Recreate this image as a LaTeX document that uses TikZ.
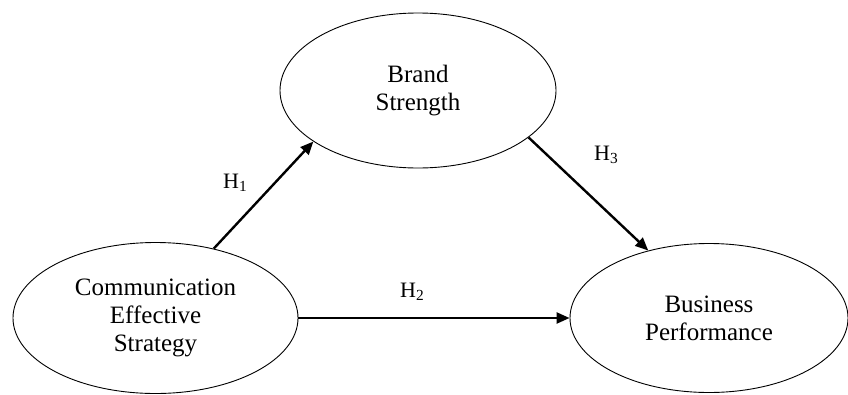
\documentclass[tikz,border=0pt]{standalone}
\usepackage{fontspec}
\setmainfont{Liberation Serif}
\usetikzlibrary{shapes.geometric,arrows.meta}
\begin{document}
\begin{tikzpicture}[x=1pt,y=-1pt,
  latent/.style={draw, line width=0.9pt, ellipse, inner sep=0pt, align=center,
    font=\fontsize{25}{28}\selectfont},
  hyp/.style={line width=2.4pt, -{Triangle[length=13pt,width=11pt]}},
  hlabel/.style={inner sep=0pt, anchor=base west, font=\fontsize{22}{24}\selectfont}]
\useasboundingbox (0,0) rectangle (848,394);
\node[latent, minimum width=276pt, minimum height=155pt] (brand) at (418,90.5) {Brand\\Strength};
\node[latent, minimum width=285pt, minimum height=151pt] (comm) at (155.5,318) {Communication\\Effective\\Strategy};
\node[latent, minimum width=278pt, minimum height=149pt] (bus) at (709,318) {Business\\Performance};
\draw[hyp] (comm.50.6) -- (brand.206.6);
\draw[hyp] (comm.east) -- (bus.west);
\draw[hyp] (brand.-23.4) -- (bus.132);
\node[hlabel] (h1) at (223,188) {H\textsubscript{1}};
\node[hlabel] (h2) at (400,297) {H\textsubscript{2}};
\node[hlabel] (h3) at (594,160) {H\textsubscript{3}};
\end{tikzpicture}
\end{document}
